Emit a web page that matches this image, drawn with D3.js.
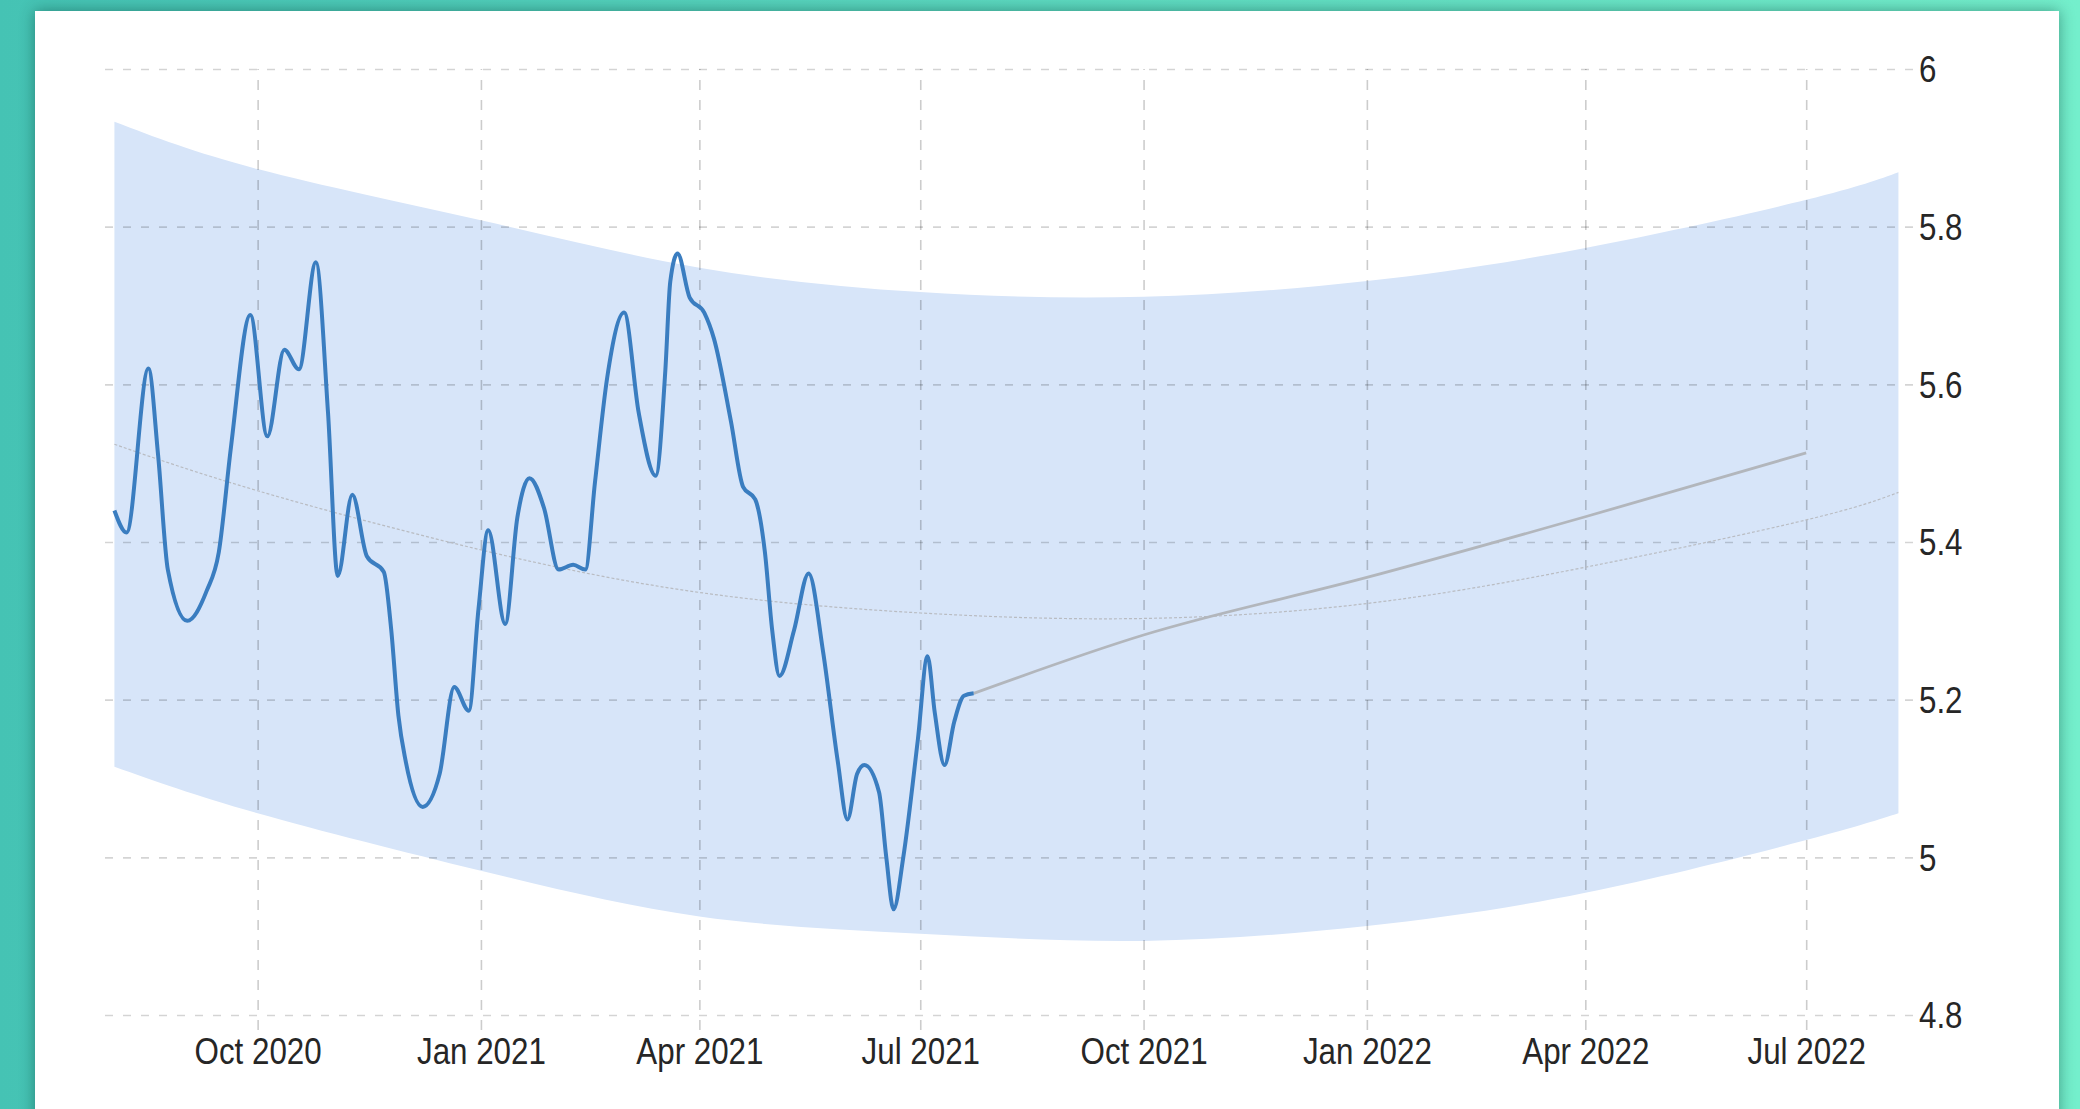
<!DOCTYPE html>
<html>
<head>
<meta charset="utf-8"/>
<script src="https://cdn.jsdelivr.net/npm/d3@7"></script>
<style>
  html, body { margin: 0; padding: 0; width: 2080px; height: 1109px; overflow: hidden;
    background: linear-gradient(to right, #45c3b4, #74efcc); }
  #card { position: absolute; left: 35px; top: 11px; width: 2024px; height: 1130px;
    background: #fff; box-shadow: 0 0 14px rgba(0, 50, 45, 0.45); }
  svg { position: absolute; left: 0; top: 0; }
  text { font-family: "Liberation Sans", Arial, sans-serif; }
  .grid line { stroke: rgba(0, 0, 0, 0.17); stroke-width: 1.6px; stroke-dasharray: 8 10; }
  .xaxis line { stroke: rgba(0, 0, 0, 0.2); stroke-dasharray: 10 10; }
  .grid .domain { display: none; }
  .grid text { fill: #262626; font-size: 36px; transform-box: fill-box; transform: scaleX(0.87); }
  .xaxis text { transform-origin: center; }
  .yaxis text { transform-origin: left center; }
</style>
</head>
<body>
<div id="card"></div>
<svg id="chart" width="2080" height="1109"></svg>
<script>
// observed series
var lineDates = ["2020-08-03","2020-08-08","2020-08-17","2020-08-21","2020-08-25","2020-09-02","2020-09-10",
  "2020-09-15","2020-09-20","2020-09-28","2020-10-05","2020-10-12","2020-10-18","2020-10-25","2020-10-30",
  "2020-11-03","2020-11-09","2020-11-15","2020-11-22","2020-11-25","2020-11-28","2020-12-01","2020-12-08",
  "2020-12-15","2020-12-21","2020-12-27","2020-12-31","2021-01-04","2021-01-11","2021-01-16","2021-01-21",
  "2021-01-27","2021-02-02","2021-02-08","2021-02-13","2021-02-17","2021-02-22","2021-03-01","2021-03-07",
  "2021-03-14","2021-03-18","2021-03-20","2021-03-23","2021-03-28","2021-04-03","2021-04-07","2021-04-14",
  "2021-04-19","2021-04-24","2021-04-28","2021-05-01","2021-05-04","2021-05-10","2021-05-16","2021-05-22",
  "2021-05-28","2021-06-01","2021-06-05","2021-06-08","2021-06-14","2021-06-17","2021-06-20","2021-06-24",
  "2021-06-30","2021-07-04","2021-07-07","2021-07-11","2021-07-15","2021-07-19","2021-07-23"];
var lineValues = [5.44,5.412,5.62,5.51,5.365,5.30,5.338,
  5.387,5.52,5.688,5.534,5.644,5.619,5.755,5.564,
  5.357,5.46,5.382,5.362,5.29,5.18,5.122,5.064,
  5.106,5.216,5.186,5.315,5.415,5.296,5.431,5.481,
  5.443,5.365,5.371,5.365,5.476,5.608,5.691,5.564,
  5.484,5.619,5.73,5.766,5.71,5.691,5.658,5.553,
  5.47,5.454,5.387,5.288,5.23,5.288,5.36,5.26,
  5.122,5.048,5.106,5.117,5.083,5.0,4.934,5.0,
  5.149,5.255,5.183,5.117,5.172,5.205,5.208];

// forecast
var forecastDates = ["2021-07-23","2021-10-01","2022-01-01","2022-04-01","2022-07-01"];
var forecastValues = [5.208,5.282,5.355,5.432,5.513];

// band and trend
var bandDates = ["2020-08-03","2020-10-01","2021-01-01","2021-04-01","2021-07-01","2021-10-01",
  "2022-01-01","2022-04-01","2022-07-01","2022-08-08"];
var bandUpper = [5.933,5.873,5.808,5.748,5.717,5.711,5.731,5.773,5.834,5.869];
var bandLower = [5.115,5.056,4.983,4.925,4.903,4.894,4.913,4.955,5.022,5.056];
var trendValues = [5.524,5.465,5.39,5.336,5.31,5.303,5.322,5.368,5.428,5.463];

var xTicks = ["2020-10-01","2021-01-01","2021-04-01","2021-07-01","2021-10-01","2022-01-01","2022-04-01","2022-07-01"];
var yTicks = [4.8,5,5.2,5.4,5.6,5.8,6];

var parse = d3.timeParse("%Y-%m-%d");
var svg = d3.select("#chart");

var x = d3.scaleTime()
    .domain([parse("2020-07-26"), parse("2022-08-14")])
    .range([95, 1913]);
var y = d3.scaleLinear()
    .domain([4.8, 6])
    .range([1015, 69]);

var band = bandDates.map(function(d, i) {
  return {date: parse(d), hi: bandUpper[i], lo: bandLower[i], mid: trendValues[i]};
});
var line = lineDates.map(function(d, i) { return {date: parse(d), value: lineValues[i]}; });
var fc = forecastDates.map(function(d, i) { return {date: parse(d), value: forecastValues[i]}; });

svg.append("path")
    .datum(band)
    .attr("fill", "#d7e5f9")
    .attr("d", d3.area()
        .curve(d3.curveNatural)
        .x(function(d) { return x(d.date); })
        .y0(function(d) { return y(d.lo); })
        .y1(function(d) { return y(d.hi); }));

svg.append("g")
    .attr("class", "grid yaxis")
    .attr("transform", "translate(1913,0)")
    .call(d3.axisRight(y)
        .tickValues(yTicks)
        .tickSize(-(1913 - 95))
        .tickPadding(6)
        .tickFormat(d3.format("~g")))
    .selectAll("text").attr("dy", "0.36em");

svg.append("g")
    .attr("class", "grid xaxis")
    .attr("transform", "translate(0,1030)")
    .call(d3.axisBottom(x)
        .tickValues(xTicks.map(parse))
        .tickSize(-(1030 - 69))
        .tickPadding(8)
        .tickFormat(d3.timeFormat("%b %Y")));

svg.append("path")
    .datum(band)
    .attr("fill", "none")
    .attr("stroke", "#b9bcc2")
    .attr("stroke-width", 1.2)
    .attr("stroke-dasharray", "3 2")
    .attr("d", d3.line()
        .curve(d3.curveNatural)
        .x(function(d) { return x(d.date); })
        .y(function(d) { return y(d.mid); }));

svg.append("path")
    .datum(fc)
    .attr("fill", "none")
    .attr("stroke", "#b2b6bc")
    .attr("stroke-width", 2.8)
    .attr("d", d3.line()
        .curve(d3.curveMonotoneX)
        .x(function(d) { return x(d.date); })
        .y(function(d) { return y(d.value); }));

svg.append("path")
    .datum(line)
    .attr("fill", "none")
    .attr("stroke", "#3a7dc0")
    .attr("stroke-width", 4)
    .attr("stroke-linejoin", "round")
    .attr("d", d3.line()
        .curve(d3.curveMonotoneX)
        .x(function(d) { return x(d.date); })
        .y(function(d) { return y(d.value); }));
</script>
</body>
</html>
